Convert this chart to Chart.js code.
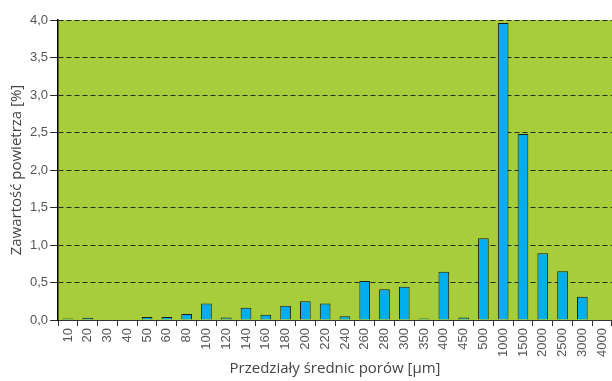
<!DOCTYPE html>
<html><head><meta charset="utf-8">
<script src="https://cdn.jsdelivr.net/npm/chart.js@4/dist/chart.umd.min.js"></script>
<style>html,body{margin:0;padding:0;background:#fff;}#wrap{width:612px;height:381px;}</style>
</head><body><div id="wrap"><canvas id="c" width="612" height="381"></canvas></div>
<script>
const categories = ["10","20","30","40","50","60","80","100","120","140","160","180","200","220","240","260","280","300","350","400","450","500","1000","1500","2000","2500","3000","4000"];
const airContent = [0.02,0.03,0,0,0.04,0.04,0.08,0.22,0.035,0.165,0.07,0.19,0.25,0.22,0.05,0.52,0.41,0.445,0.02,0.645,0.035,1.09,3.96,2.48,0.89,0.65,0.31,0];
const yTicks = [0,0.5,1.0,1.5,2.0,2.5,3.0,3.5,4.0];

const bgPlugin = {
  id: 'bg',
  beforeDraw(chart) {
    const {ctx, chartArea: a} = chart;
    ctx.save();
    ctx.fillStyle = '#a8cd3a';
    ctx.fillRect(a.left, a.top, a.right - a.left, a.bottom - a.top);
    ctx.restore();
  }
};

new Chart(document.getElementById('c'), {
  type: 'bar',
  data: {
    labels: categories,
    datasets: [{
      data: airContent,
      backgroundColor: '#00aeef',
      borderColor: '#1a1a1a',
      borderWidth: 1,
      barPercentage: 0.54,
      categoryPercentage: 1.0
    }]
  },
  options: {
    responsive: false,
    animation: false,
    layout: { padding: { top: 20, right: 0, left: 4, bottom: 2 } },
    plugins: { legend: { display: false }, tooltip: { enabled: false } },
    scales: {
      x: {
        offset: true,
        afterFit(axis) { axis.paddingRight = 0; },
        grid: { offset: true, drawOnChartArea: false, color: '#333', tickLength: 6, tickWidth: 1 },
        border: { display: true, color: '#333', width: 1 },
        ticks: { color: '#555', font: { family: 'Liberation Sans', size: 13 }, maxRotation: 90, minRotation: 90, padding: 2, autoSkip: false },
        title: { display: true, text: 'Przedziały średnic porów [μm]', color: '#444', font: { family: 'Open Sans', size: 15 }, padding: { top: 1, bottom: 1 } }
      },
      y: {
        min: 0, max: 4,
        afterBuildTicks(axis) { axis.ticks = yTicks.map(v => ({ value: v })); },
        grid: { color: '#2a2a2a', tickBorderDash: [], tickLength: 8, lineWidth: 1 },
        border: { display: true, color: '#000', width: 1.5, dash: [5, 3] },
        ticks: { color: '#555', font: { family: 'Liberation Sans', size: 13 }, padding: 2,
          callback: v => Number(v).toFixed(1).replace('.', ',') },
        title: { display: true, text: 'Zawartość powietrza [%]', color: '#444', font: { family: 'Open Sans', size: 15 }, padding: { bottom: 2 } }
      }
    }
  },
  plugins: [bgPlugin]
});
</script></body></html>
